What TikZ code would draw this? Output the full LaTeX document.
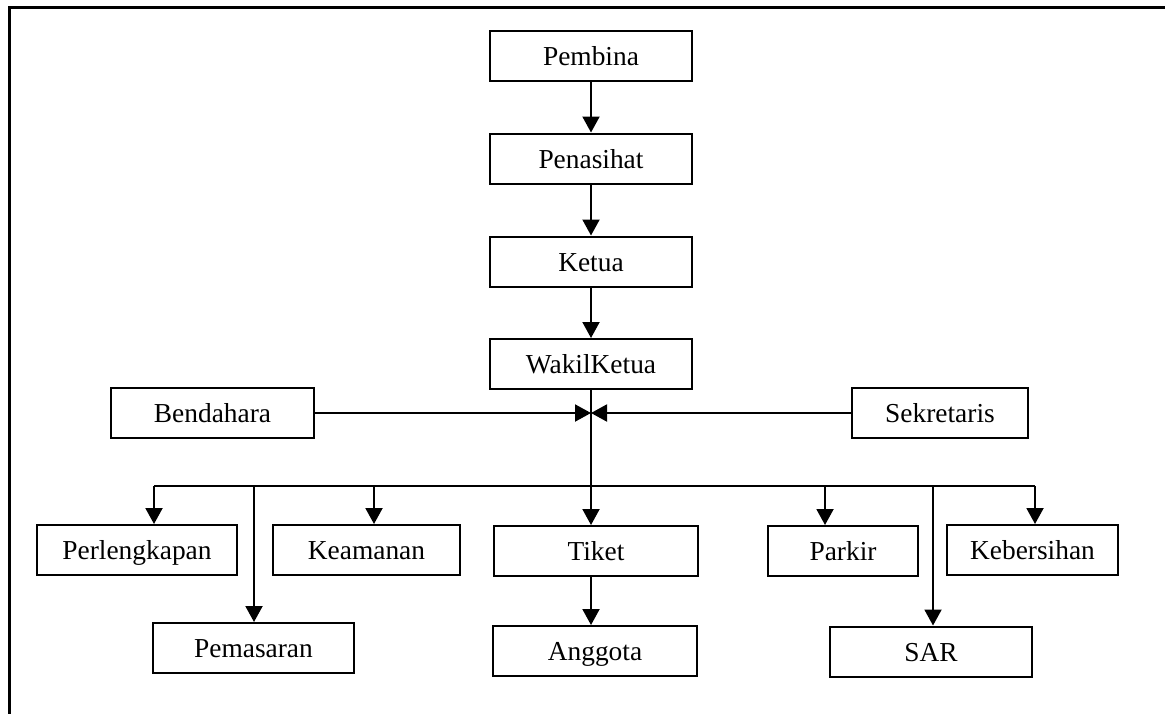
\documentclass[tikz,border=0pt]{standalone}
\usepackage{fontspec}
\setmainfont{Liberation Serif}
\usetikzlibrary{arrows.meta}

\tikzset{
	unit/.style = {draw, line width=1pt, minimum height=25pt, inner sep=0pt, text height=11.5pt, text depth=1.8pt, font=\fontsize{13.7pt}{15pt}\selectfont},
	link/.style = {line width=1pt, -{Triangle[length=8pt,width=8.5pt]}}
}

\begin{document}
\begin{tikzpicture}[x=0.5pt, y=-0.5pt]
	\useasboundingbox (0,0) rectangle (1165,713);
	% frame, only top and left edge show
	\draw [line width=1.5pt] (9,720) -- (9,7) -- (1175,7);
	% top chain
	\node [unit, minimum width=101pt] (pembina) at (591,56) {Pembina};
	\node [unit, minimum width=101pt] (penasihat) at (591,158.5) {Penasihat};
	\node [unit, minimum width=101pt] (ketua) at (591,261.5) {Ketua};
	\node [unit, minimum width=101pt] (wakil) at (591,364) {WakilKetua};
	\node [unit, minimum width=101.5pt] (bendahara) at (212.5,413) {Bendahara};
	\node [unit, minimum width=88pt] (sekretaris) at (940,413) {Sekretaris};
	% second row
	\node [unit, minimum width=100pt] (perlengkapan) at (137,550) {Perlengkapan};
	\node [unit, minimum width=93.5pt] (keamanan) at (366.5,550) {Keamanan};
	\node [unit, minimum width=102pt] (tiket) at (596,551) {Tiket};
	\node [unit, minimum width=75pt] (parkir) at (843,551) {Parkir};
	\node [unit, minimum width=85.5pt] (kebersihan) at (1032.5,550) {Kebersihan};
	% third row
	\node [unit, minimum width=100.5pt] (pemasaran) at (253.5,648) {Pemasaran};
	\node [unit, minimum width=102pt] (anggota) at (595,651) {Anggota};
	\node [unit, minimum width=101pt] (sar) at (931,651.5) {SAR};
	% junctions
	\coordinate (hub) at (591,413);
	\coordinate (b1) at (154,486);
	\coordinate (b2) at (254,486);
	\coordinate (b3) at (374,486);
	\coordinate (b4) at (825,486);
	\coordinate (b5) at (933,486);
	\coordinate (b6) at (1035,486);
	\draw [link] (pembina) -- (penasihat);
	\draw [link] (penasihat) -- (ketua);
	\draw [link] (ketua) -- (wakil);
	\draw [link] (bendahara.east) -- (hub);
	\draw [link] (sekretaris.west) -- (hub);
	\draw [link] (wakil.south) -- (wakil.south |- tiket.north);
	\draw [line width=1pt] (b1) -- (b6);
	\draw [link] (b1) -- (b1 |- perlengkapan.north);
	\draw [link] (b2) -- (b2 |- pemasaran.north);
	\draw [link] (b3) -- (b3 |- keamanan.north);
	\draw [link] (b4) -- (b4 |- parkir.north);
	\draw [link] (b5) -- (b5 |- sar.north);
	\draw [link] (b6) -- (b6 |- kebersihan.north);
	\draw [link] (wakil.south |- tiket.south) -- (wakil.south |- anggota.north);
\end{tikzpicture}
\end{document}
